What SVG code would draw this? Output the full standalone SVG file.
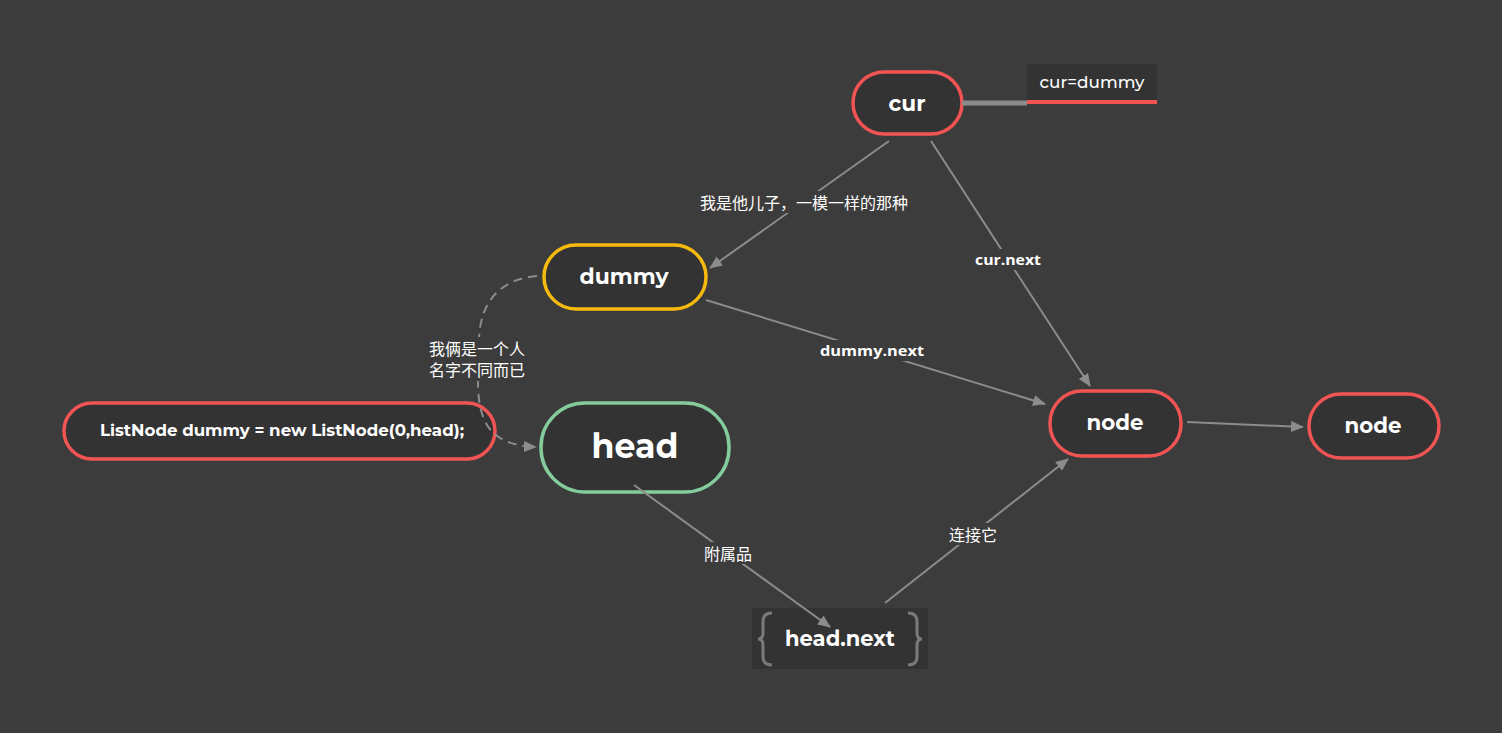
<svg xmlns="http://www.w3.org/2000/svg" width="1502" height="733" viewBox="0 0 1502 733">
<style>
.bg{fill:#3c3c3c}
.nd{fill:#333333;stroke-width:3.5}
.red{stroke:#f25454}
.t{font-family:"Montserrat","Open Sans","Liberation Sans",sans-serif;font-weight:700;fill:#ffffff;text-anchor:middle;dominant-baseline:central}
.lbl{font-family:"Open Sans","Liberation Sans",sans-serif;font-weight:700;font-size:15px;fill:#ffffff;text-anchor:middle;dominant-baseline:central}
.cjk{font-family:"Noto Sans CJK SC","Noto Sans",sans-serif;font-size:16px;fill:#ffffff;text-anchor:middle;dominant-baseline:central}
.ln{stroke:#8c8c8c;stroke-width:2;fill:none}
.lb{fill:#3c3c3c}
</style>
<defs>
<marker id="ah" markerUnits="userSpaceOnUse" markerWidth="14" markerHeight="12" refX="12" refY="5.5" orient="auto">
<path d="M0,0 L13,5.5 L0,11 Z" fill="#8c8c8c"/>
</marker>
</defs>
<rect class="bg" x="0" y="0" width="1502" height="733"/>

<g id="cur">
<rect class="nd red" x="853" y="72" width="109" height="62" rx="31"/>
<text class="t" x="907" y="103" font-size="22" textLength="37" lengthAdjust="spacingAndGlyphs">cur</text>
</g>

<g id="cur-note">
<rect x="1027" y="64" width="130" height="40" fill="#333333"/>
<line x1="1027" y1="102" x2="1157" y2="102" stroke="#f25454" stroke-width="4"/>
<text x="1092" y="82" font-family="'Montserrat','Open Sans','Liberation Sans',sans-serif" font-size="16" font-weight="500" fill="#ffffff" text-anchor="middle" dominant-baseline="central" textLength="105" lengthAdjust="spacingAndGlyphs">cur=dummy</text>
</g>

<g id="dummy">
<rect class="nd" stroke="#f6b90d" x="544" y="245" width="162" height="64" rx="32"/>
<text class="t" x="624" y="276" font-size="22" textLength="89" lengthAdjust="spacingAndGlyphs">dummy</text>
</g>

<g id="head">
<rect class="nd" stroke="#84cc9c" x="541" y="403" width="188" height="89" rx="44"/>
<text class="t" x="635" y="446" font-size="34" textLength="87" lengthAdjust="spacingAndGlyphs">head</text>
</g>

<g id="listnode">
<rect class="nd red" x="64" y="403" width="431" height="56" rx="28"/>
<text class="t" x="282" y="430" font-size="17" textLength="364" lengthAdjust="spacingAndGlyphs">ListNode dummy = new ListNode(0,head);</text>
</g>

<g id="node1">
<rect class="nd red" x="1050" y="391" width="131" height="65" rx="32"/>
<text class="t" x="1115" y="422" font-size="22" textLength="57" lengthAdjust="spacingAndGlyphs">node</text>
</g>

<g id="node2">
<rect class="nd red" x="1309" y="394" width="130" height="64" rx="32"/>
<text class="t" x="1373" y="425" font-size="22" textLength="57" lengthAdjust="spacingAndGlyphs">node</text>
</g>

<g id="head-next">
<rect x="752" y="608" width="176" height="61" fill="#333333"/>
<path d="M772,613 Q763,613 763,621 L763,633 Q763,639 758,639 Q763,639 763,645 L763,657 Q763,665 772,665" fill="none" stroke="#7a7a7a" stroke-width="3"/>
<path d="M908,613 Q917,613 917,621 L917,633 Q917,639 922,639 Q917,639 917,645 L917,657 Q917,665 908,665" fill="none" stroke="#7a7a7a" stroke-width="3"/>
<text class="t" x="840" y="638" font-size="22" textLength="110" lengthAdjust="spacingAndGlyphs">head.next</text>
</g>

<g id="connectors">
<line class="ln" x1="962" y1="103" x2="1027" y2="103" style="stroke-width:5"/>
<line class="ln" x1="889" y1="141" x2="710" y2="268" marker-end="url(#ah)"/>
<line class="ln" x1="931" y1="141" x2="1090" y2="386" marker-end="url(#ah)"/>
<line class="ln" x1="706" y1="300" x2="1045" y2="404" marker-end="url(#ah)"/>
<line class="ln" x1="1187" y1="422" x2="1303" y2="427" marker-end="url(#ah)"/>
<line class="ln" x1="634" y1="485" x2="830" y2="627" marker-end="url(#ah)"/>
<line class="ln" x1="885" y1="603" x2="1068" y2="459" marker-end="url(#ah)"/>
<path class="ln" d="M537,276 C500,279 480,302 479,340 L478,385 C479,420 488,445 536,447" style="stroke-dasharray:9,6" marker-end="url(#ah)"/>
<rect class="lb" x="694" y="191" width="220" height="22"/>
<text class="cjk" x="804" y="202">我是他儿子，一模一样的那种</text>
<rect class="lb" x="972" y="249" width="72" height="21"/>
<text class="lbl" x="1008" y="259" textLength="66" lengthAdjust="spacingAndGlyphs">cur.next</text>
<rect class="lb" x="817" y="340" width="110" height="21"/>
<text class="lbl" x="872" y="350" textLength="104" lengthAdjust="spacingAndGlyphs">dummy.next</text>
<rect class="lb" x="700" y="542" width="56" height="22"/>
<text class="cjk" x="728" y="553">附属品</text>
<rect class="lb" x="945" y="523" width="56" height="22"/>
<text class="cjk" x="973" y="534">连接它</text>
<rect class="lb" x="424" y="337" width="106" height="44"/>
<text class="cjk" x="477" y="348">我俩是一个人</text>
<text class="cjk" x="477" y="369">名字不同而已</text>
</g>
</svg>
